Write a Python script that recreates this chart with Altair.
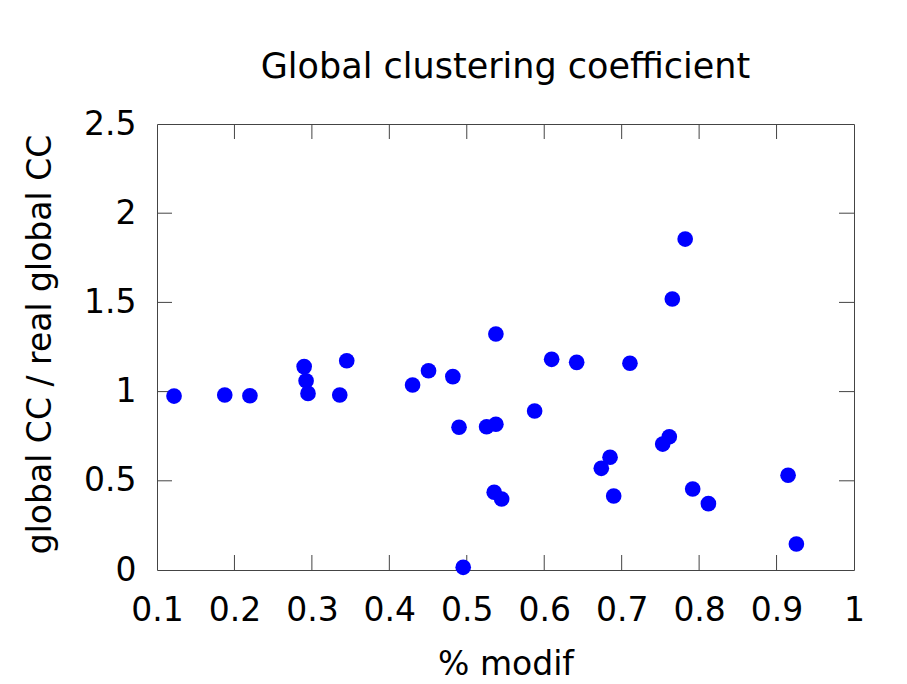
import altair as alt
import pandas as pd

# Data
pct_modif = [0.122, 0.1875, 0.220, 0.290, 0.2925, 0.295, 0.336, 0.345,
             0.430, 0.4506, 0.482, 0.490, 0.4954, 0.5256, 0.5376, 0.5376,
             0.5354, 0.545, 0.6096, 0.6419, 0.7107, 0.5876, 0.685, 0.6737,
             0.6897, 0.753, 0.7615, 0.7917, 0.812, 0.9149, 0.9256, 0.782,
             0.7654]
ratio_cc = [0.975, 0.981, 0.977, 1.140, 1.061, 0.990, 0.981, 1.173,
            1.037, 1.117, 1.084, 0.800, 0.015, 0.803, 0.817, 1.323,
            0.436, 0.398, 1.181, 1.164, 1.159, 0.891, 0.632, 0.570,
            0.415, 0.706, 0.747, 0.454, 0.372, 0.531, 0.146, 1.855,
            1.519]

x_ticks = [0.1, 0.2, 0.3, 0.4, 0.5, 0.6, 0.7, 0.8, 0.9, 1.0]
y_ticks = [0, 0.5, 1, 1.5, 2, 2.5]
x_inner_ticks = [0.2, 0.3, 0.4, 0.5, 0.6, 0.7, 0.8, 0.9]
y_inner_ticks = [0.5, 1, 1.5, 2]

W, H = 697, 446
FONT = "DejaVu Sans"
TICK_COLOR = "#444444"
TICK_LEN = 15

df = pd.DataFrame({"x": pct_modif, "y": ratio_cc})
xt = pd.DataFrame({"v": x_inner_ticks})
yt = pd.DataFrame({"v": y_inner_ticks})

xscale = alt.Scale(domain=[0.1, 1.0], nice=False, zero=False)
yscale = alt.Scale(domain=[0, 2.5], nice=False, zero=False)

points = alt.Chart(df).mark_circle(size=245, color="#0000ff", opacity=1).encode(
    x=alt.X("x:Q", scale=xscale, title="% modif",
            axis=alt.Axis(values=x_ticks, format="~g", ticks=False, tickSize=0,
                          domain=False, grid=False, labelFont=FONT,
                          labelFontSize=33, labelColor="black",
                          labelBaseline="alphabetic", labelPadding=50,
                          titleFont=FONT, titleFontSize=33, titleFontWeight="normal",
                          titleColor="black", titleBaseline="alphabetic",
                          titleAlign="center", titleX=W / 2, titleY=104,
                          labelFlush=False, labelOverlap=False)),
    y=alt.Y("y:Q", scale=yscale, title="global CC / real global CC",
            axis=alt.Axis(values=y_ticks, format="~g", ticks=False, tickSize=0,
                          domain=False, grid=False, labelFont=FONT,
                          labelFontSize=33, labelColor="black",
                          labelAlign="right", labelBaseline="middle",
                          labelPadding=21,
                          titleFont=FONT, titleFontSize=33, titleFontWeight="normal",
                          titleColor="black", titleAngle=270,
                          titleBaseline="alphabetic", titleAlign="center",
                          titleX=-107, titleY=H / 2 - 3,
                          labelFlush=False, labelOverlap=False)),
)

bottom_ticks = alt.Chart(xt).mark_rule(color=TICK_COLOR, strokeWidth=1).encode(
    x=alt.X("v:Q", scale=xscale), y=alt.value(H), y2=alt.value(H - TICK_LEN))
top_ticks = alt.Chart(xt).mark_rule(color=TICK_COLOR, strokeWidth=1).encode(
    x=alt.X("v:Q", scale=xscale), y=alt.value(0), y2=alt.value(TICK_LEN))
left_ticks = alt.Chart(yt).mark_rule(color=TICK_COLOR, strokeWidth=1).encode(
    y=alt.Y("v:Q", scale=yscale), x=alt.value(0), x2=alt.value(TICK_LEN))
right_ticks = alt.Chart(yt).mark_rule(color=TICK_COLOR, strokeWidth=1).encode(
    y=alt.Y("v:Q", scale=yscale), x=alt.value(W), x2=alt.value(W - TICK_LEN))

chart = alt.layer(bottom_ticks, top_ticks, left_ticks, right_ticks, points).properties(
    width=W, height=H,
    title=alt.TitleParams("Global clustering coefficient", font=FONT, fontSize=35,
                          fontWeight="normal", color="black", anchor="middle",
                          frame="group", baseline="alphabetic", offset=46, dy=51),
    autosize=alt.AutoSizeParams(type="none"),
    padding={"left": 149, "top": 116, "right": 40, "bottom": 112},
    background="white",
).configure_view(stroke=TICK_COLOR, strokeWidth=1)

chart.save("out.html", embed_options={"renderer": "svg", "actions": False})
